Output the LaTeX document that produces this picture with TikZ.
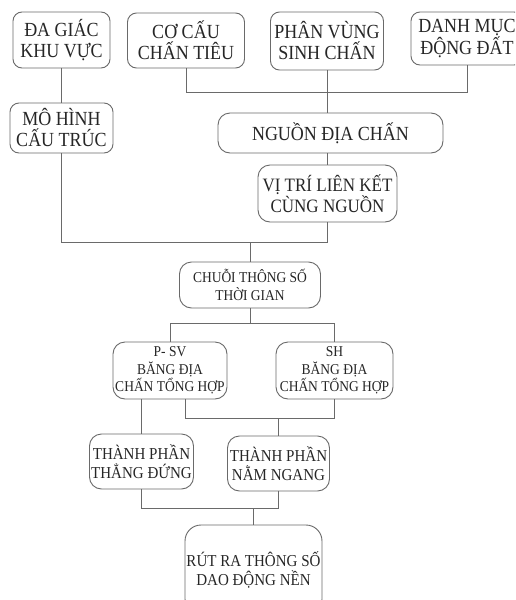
\documentclass[tikz,border=0pt]{standalone}
\usepackage{fontspec}
\setmainfont{Liberation Serif}[FakeStretch=0.9]
\definecolor{txt}{HTML}{262626}
\definecolor{ln}{HTML}{6A6A6A}
\tikzset{
  box/.style={draw=ln, line width=0.9pt, rounded corners=9pt, align=center, inner sep=0pt, text=txt},
  big/.style={box, font=\fontsize{20}{21}\selectfont},
  mid/.style={box, font=\fontsize{16.7}{19}\selectfont},
  small/.style={box, font=\fontsize{15}{17.5}\selectfont},
  conn/.style={draw=ln, line width=0.9pt}
}
\begin{document}
\begin{tikzpicture}[x=1pt, y=-1pt]
\useasboundingbox (0,0) rectangle (515,600);
\clip (0,0) rectangle (515,600);
\fill[white] (0,0) rectangle (515,600);
% top row
\node[big, minimum width=97pt, minimum height=56pt] (dagiac) at (61.5,40) {ĐA GIÁC\\KHU VỰC};
\node[big, minimum width=117pt, minimum height=55pt] (cocau) at (186,40.5) {CƠ CẤU\\CHẤN TIÊU};
\node[big, minimum width=113pt, minimum height=58pt] (phanvung) at (327,41) {PHÂN VÙNG\\SINH CHẤN};
\node[big, minimum width=112pt, minimum height=53pt] (danhmuc) at (467,38.5) {DANH MỤC\\ĐỘNG ĐẤT};
% second row
\node[big, minimum width=103pt, minimum height=50pt] (mohinh) at (61.5,128) {MÔ HÌNH\\CẤU TRÚC};
\node[big, rounded corners=12pt, minimum width=225pt, minimum height=40pt] (nguon) at (330.5,133) {NGUỒN ĐỊA CHẤN};
\node[box, font=\fontsize{18.9}{21}\selectfont, rounded corners=12pt, minimum width=139pt, minimum height=57pt] (vitri) at (327.5,193.5) {VỊ TRÍ LIÊN KẾT\\CÙNG NGUỒN};
% middle
\node[small, rounded corners=12pt, minimum width=141pt, minimum height=46pt] (chuoi) at (250,285) {CHUỖI THÔNG SỐ\\THỜI GIAN};
\node[small, rounded corners=12pt, minimum width=114pt, minimum height=57pt] (psv) at (170,370.5) {P- SV\\BĂNG ĐỊA\\CHẤN TỔNG HỢP};
\node[small, rounded corners=12pt, minimum width=117pt, minimum height=57pt] (sh) at (334.5,370.5) {SH\\BĂNG ĐỊA\\CHẤN TỔNG HỢP};
\node[mid, rounded corners=12pt, minimum width=104pt, minimum height=55pt] (thangdung) at (141.5,461.5) {THÀNH PHẦN\\THẲNG ĐỨNG};
\node[mid, rounded corners=12pt, minimum width=102pt, minimum height=55pt] (namngang) at (278.5,463.5) {THÀNH PHẦN\\NẰM NGANG};
\node[mid, rounded corners=16pt, minimum width=137pt, minimum height=90pt] (rutra) at (253.5,570) {RÚT RA THÔNG SỐ\\DAO ĐỘNG NỀN};
% bar coordinates
\coordinate (bar1) at (0,92);
\coordinate (bar2) at (0,242);
\coordinate (bar3) at (0,323);
\coordinate (bar4) at (0,418);
\coordinate (bar5) at (0,508);
\coordinate (pr) at (185,0);
% connectors
\draw[conn] (dagiac.south) -- (mohinh.north);
\draw[conn] (cocau.south) -- (cocau.south |- bar1) -- (danhmuc.south |- bar1) -- (danhmuc.south);
\draw[conn] (phanvung.south) -- (phanvung.south |- nguon.north);
\draw[conn] (vitri.north |- nguon.south) -- (vitri.north);
\draw[conn] (mohinh.south) -- (mohinh.south |- bar2) -- (vitri.south |- bar2) -- (vitri.south);
\draw[conn] (chuoi.north |- bar2) -- (chuoi.north);
\draw[conn] (chuoi.south) -- (chuoi.south |- bar3);
\draw[conn] (psv.north) -- (psv.north |- bar3) -- (sh.north |- bar3) -- (sh.north);
\draw[conn] (thangdung.north |- psv.south) -- (thangdung.north);
\draw[conn] (pr |- psv.south) -- (pr |- bar4) -- (sh.south |- bar4) -- (sh.south);
\draw[conn] (namngang.north |- bar4) -- (namngang.north);
\draw[conn] (thangdung.south) -- (thangdung.south |- bar5) -- (namngang.south |- bar5) -- (namngang.south);
\draw[conn] (rutra.north |- bar5) -- (rutra.north);
\end{tikzpicture}
\end{document}
